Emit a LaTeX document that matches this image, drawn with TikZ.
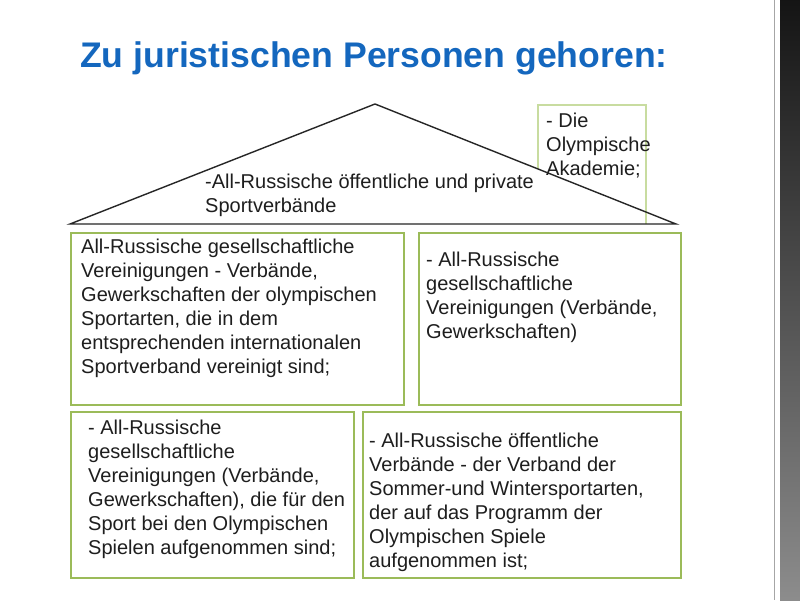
\documentclass[tikz,border=0pt]{standalone}
\usepackage{fontspec}
\setmainfont{Liberation Sans}
\definecolor{titleblue}{HTML}{1467BE}
\definecolor{boxgreen}{HTML}{9BBB59}
\definecolor{lightgreen}{HTML}{C8DCA0}
\definecolor{txtgray}{HTML}{1E1E1E}
\newcommand\mlines[1]{\begin{tabular}[t]{@{}l@{}}#1\end{tabular}}
\tikzset{
  box/.style={draw=boxgreen, line width=1.6pt, anchor=north west, inner sep=0pt},
  txt/.style={anchor=base west, inner sep=0pt, text=txtgray,
    font=\fontsize{20pt}{24pt}\selectfont},
  titletxt/.style={anchor=base west, inner sep=0pt, text=titleblue,
    font=\fontsize{35.6pt}{40pt}\selectfont\bfseries},
  roof/.style={draw=black!85, line width=1.4pt, line join=miter},
}
\begin{document}
\begin{tikzpicture}[x=1pt,y=-1pt]
\useasboundingbox (0,0) rectangle (800,600);
\fill[white] (0,0) rectangle (800,600);
% right decoration
\draw[black!35, line width=1pt] (774,0) -- (774,600);
\shade[top color=black!92, bottom color=black!45] (780,0) rectangle (800,600);
% title
\node[titletxt] (title) at (80,67) {Zu juristischen Personen gehoren:};
% Akademie box
\coordinate (ak1) at (538,169);
\coordinate (ak2) at (538,105);
\coordinate (ak3) at (646,105);
\coordinate (ak4) at (646,224);
\draw[lightgreen, line width=1.2pt] (ak1) -- (ak2) -- (ak3) -- (ak4);
\node[txt] (akad) at (546,127) {\mlines{- Die\\Olympische\\Akademie;}};
% roof
\coordinate (apex) at (375,104);
\coordinate (bl) at (70,224);
\coordinate (br) at (676,224);
\draw[roof] (bl) -- (apex) -- (br) -- cycle;
\node[txt] (rooftxt) at (205,188) {\mlines{-All-Russische öffentliche und private\\Sportverbände}};
% boxes
\node[box, minimum width=333pt, minimum height=172pt] (b1) at (70,232) {};
\node[box, minimum width=262pt, minimum height=172pt] (b2) at (418,232) {};
\node[box, minimum width=283pt, minimum height=166pt] (b3) at (70,411) {};
\node[box, minimum width=318pt, minimum height=166pt] (b4) at (362,411) {};
\node[txt] (t1) at (81,253) {\mlines{All-Russische gesellschaftliche\\Vereinigungen - Verbände,\\Gewerkschaften der olympischen\\Sportarten, die in dem\\entsprechenden internationalen\\Sportverband vereinigt sind;}};
\node[txt] (t2) at (426,266) {\mlines{- All-Russische\\gesellschaftliche\\Vereinigungen (Verbände,\\Gewerkschaften)}};
\node[txt] (t3) at (88,434) {\mlines{- All-Russische\\gesellschaftliche\\Vereinigungen (Verbände,\\Gewerkschaften), die für den\\Sport bei den Olympischen\\Spielen aufgenommen sind;}};
\node[txt] (t4) at (369,447) {\mlines{- All-Russische öffentliche\\Verbände - der Verband der\\Sommer-und Wintersportarten,\\der auf das Programm der\\Olympischen Spiele\\aufgenommen ist;}};
\end{tikzpicture}
\end{document}
